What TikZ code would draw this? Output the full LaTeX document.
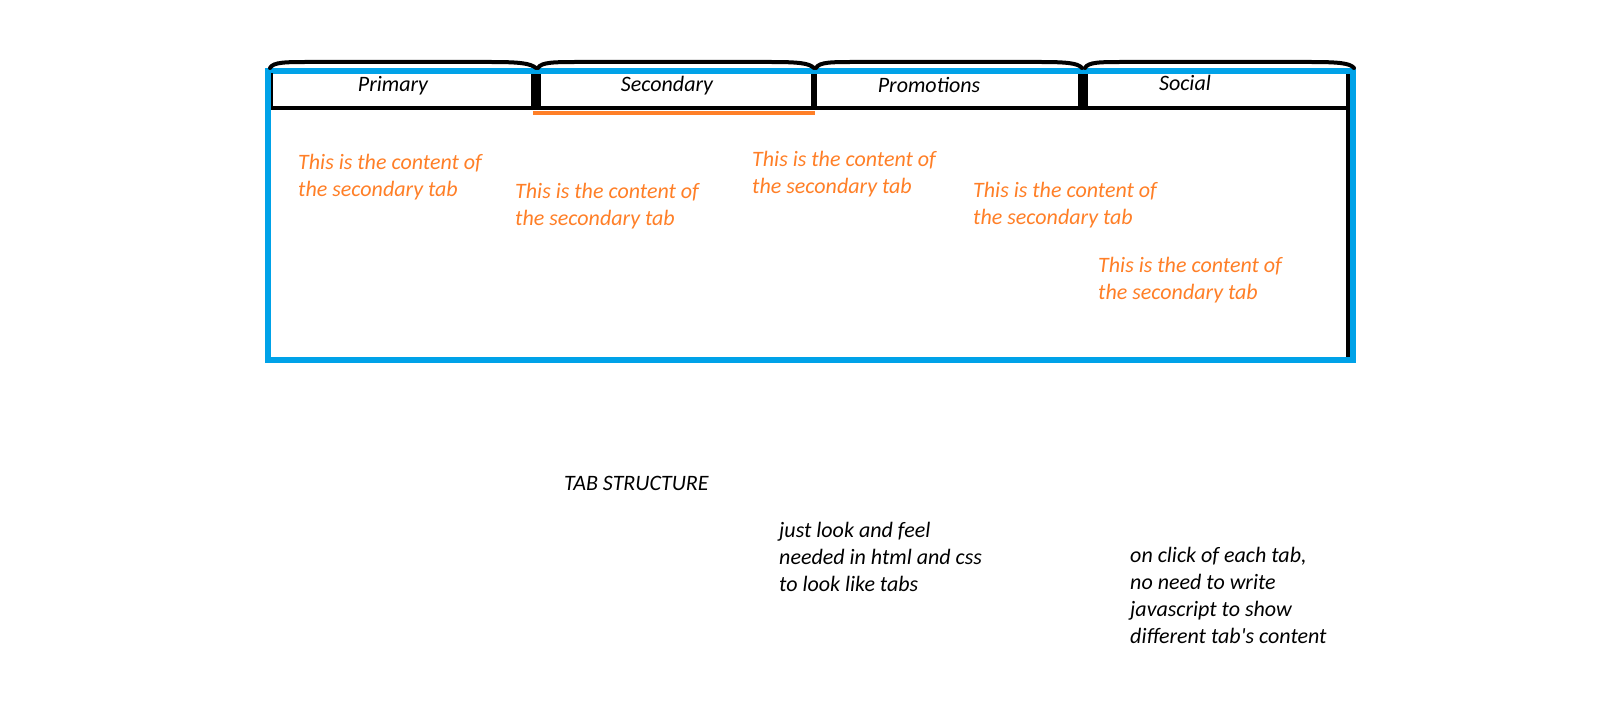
\documentclass[tikz,border=0pt]{standalone}
\usepackage{fontspec}
\setmainfont{Carlito}
\definecolor{tabblue}{HTML}{00A2E8}
\definecolor{taborange}{HTML}{FF7F27}
\begin{document}
\begin{tikzpicture}[x=1pt,y=-1pt,
  txt/.style={font=\fontsize{22}{27}\selectfont\itshape, inner sep=0pt, align=left, anchor=north west},
  orangetxt/.style={txt, text=taborange},
  tablabel/.style={font=\fontsize{22}{27}\selectfont\itshape, inner sep=0pt},
  arc/.style={line width=4pt, line cap=round},
  divider/.style={line width=#1},
]
\useasboundingbox[fill=white] (0,0) rectangle (1606,708);

% frame
\draw[tabblue, line width=5.5pt] (268,71) rectangle (1353,360);
% tab row lines
\draw[line width=4.5pt] (271,108) -- (1348,108);
\draw[line width=2pt] (272,73) -- (272,108);
\draw[line width=4pt] (1348,74) -- (1348,357);
\draw[divider=10pt] (536,74) -- (536,108);
\draw[divider=6pt] (814,74) -- (814,108);
\draw[divider=10pt] (1083,74) -- (1083,108);
% active tab underline
\draw[taborange, line width=4pt] (533,113.5) -- (815,113.5);

% tab tops
\draw[arc] (270,68) .. controls (273,62) and (286,62) .. (310,62) -- (490,62) .. controls (518,62) and (530,63) .. (536,68);
\draw[arc] (538,68) .. controls (541,62) and (555,62) .. (580,62) -- (770,62) .. controls (798,62) and (809,63) .. (814,68);
\draw[arc] (816,68) .. controls (819,62) and (832,62) .. (855,62) -- (1040,62) .. controls (1066,62) and (1078,63) .. (1082,68);
\draw[arc] (1085,68) .. controls (1088,62) and (1100,62) .. (1125,62) -- (1310,62) .. controls (1338,62) and (1350,63) .. (1354,68);

% tab labels
\node[tablabel] (primary) at (393,86) {Primary};
\node[tablabel] (secondary) at (667,86) {Secondary};
\node[tablabel] (promotions) at (929,85) {Promotions};
\node[tablabel] (social) at (1185,83) {Social};

% contents
\node[orangetxt] (c1) at (298,154) {This is the content of\\the secondary tab};
\node[orangetxt] (c2) at (515,183.5) {This is the content of\\the secondary tab};
\node[orangetxt] (c3) at (752,151) {This is the content of\\the secondary tab};
\node[orangetxt] (c4) at (973,182.5) {This is the content of\\the secondary tab};
\node[orangetxt] (c5) at (1098,257) {This is the content of\\the secondary tab};

% notes
\node[txt] (title) at (564,476) {TAB STRUCTURE};
\node[txt] (note1) at (779,522.5) {just look and feel\\needed in html and css\\to look like tabs};
\node[txt] (note2) at (1130,547) {on click of each tab,\\no need to write\\javascript to show\\different tab\textquotesingle s content};
\end{tikzpicture}
\end{document}
